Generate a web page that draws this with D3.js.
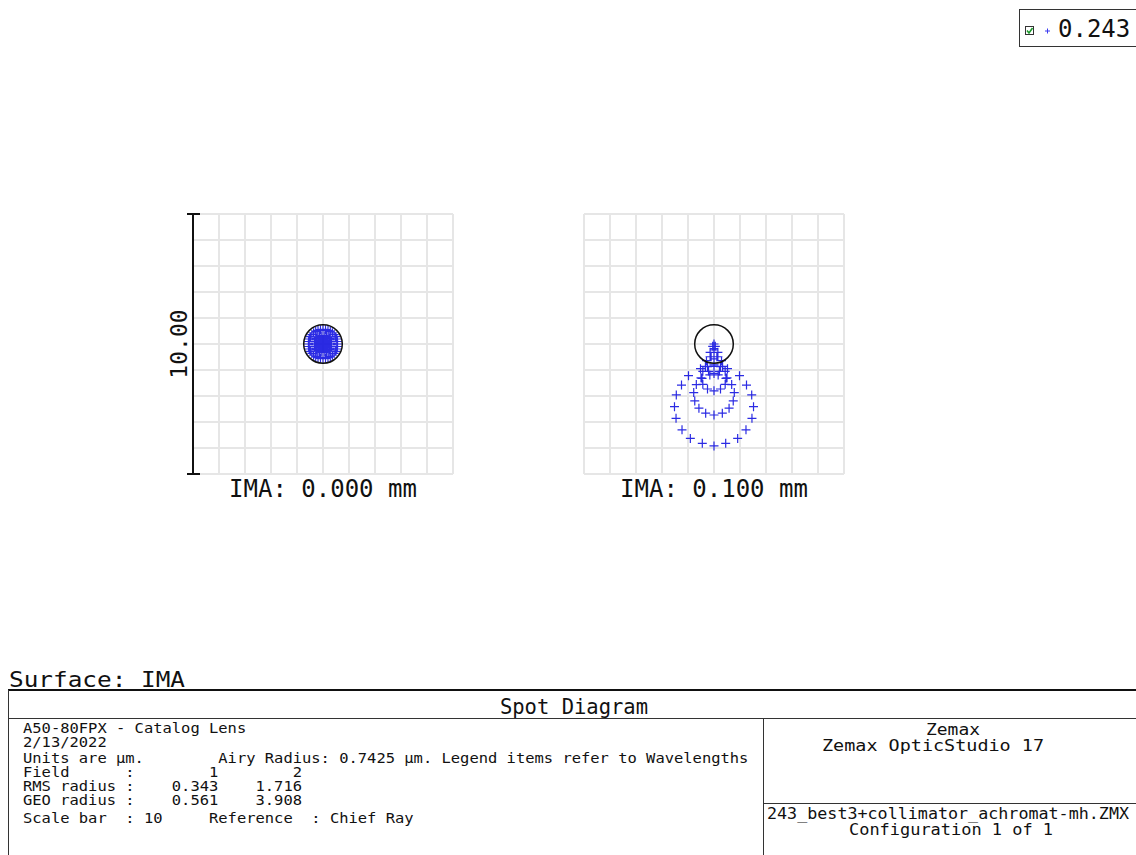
<!DOCTYPE html>
<html>
<head>
<meta charset="utf-8">
<script src="https://cdn.jsdelivr.net/npm/d3@7"></script>
<style>
  html, body { margin: 0; padding: 0; background: #fff; }
  svg { display: block; }
  text { font-family: "DejaVu Sans Mono", "Liberation Mono", monospace; fill: #111; }
</style>
</head>
<body>
<svg id="chart" width="1136" height="855"></svg>
<script>
// ---- data (micrometres, relative to the chief ray; +y is up) ----
const wavelengths = ["0.243"];
const fieldLabels = ["IMA: 0.000 mm", "IMA: 0.100 mm"];
const airyRadius = 0.7425;
const scaleBarLength = 10;
const scaleBarLabel = "10.00";

// Field 1 (on axis): hexapolar rings, spherical-like blur
const field1Spots = [
  [0, 0],
  [0, .003], [.0026, .0015], [.0026, -.0015], [0, -.003], [-.0026, -.0015], [-.0026, .0015],
  [0, .021], [.011, .018], [.018, .011], [.021, 0], [.018, -.011], [.011, -.018],
  [0, -.021], [-.011, -.018], [-.018, -.011], [-.021, 0], [-.018, .011], [-.011, .018],
  [0, .070], [.024, .066], [.045, .054], [.061, .035], [.069, .012], [.069, -.012],
  [.061, -.035], [.045, -.054], [.024, -.066], [0, -.070], [-.024, -.066], [-.045, -.054],
  [-.061, -.035], [-.069, -.012], [-.069, .012], [-.061, .035], [-.045, .054], [-.024, .066],
  [0, .166], [.043, .160], [.083, .144], [.117, .117], [.144, .083], [.160, .043],
  [.166, 0], [.160, -.043], [.144, -.083], [.117, -.117], [.083, -.144], [.043, -.160],
  [0, -.166], [-.043, -.160], [-.083, -.144], [-.117, -.117], [-.144, -.083], [-.160, -.043],
  [-.166, 0], [-.160, .043], [-.144, .083], [-.117, .117], [-.083, .144], [-.043, .160],
  [0, .325], [.068, .318], [.132, .297], [.191, .263], [.242, .217], [.281, .163],
  [.309, .100], [.323, .034], [.323, -.034], [.309, -.100], [.281, -.163], [.242, -.217],
  [.191, -.263], [.132, -.297], [.068, -.318], [0, -.325], [-.068, -.318], [-.132, -.297],
  [-.191, -.263], [-.242, -.217], [-.281, -.163], [-.309, -.100], [-.323, -.034], [-.323, .034],
  [-.309, .100], [-.281, .163], [-.242, .217], [-.191, .263], [-.132, .297], [-.068, .318],
  [0, .561], [.097, .552], [.192, .527], [.281, .486], [.361, .430], [.430, .361],
  [.486, .281], [.527, .192], [.552, .097], [.561, 0], [.552, -.097], [.527, -.192],
  [.486, -.281], [.430, -.361], [.361, -.430], [.281, -.486], [.192, -.527], [.097, -.552],
  [0, -.561], [-.097, -.552], [-.192, -.527], [-.281, -.486], [-.361, -.430], [-.430, -.361],
  [-.486, -.281], [-.527, -.192], [-.552, -.097], [-.561, 0], [-.552, .097], [-.527, .192],
  [-.486, .281], [-.430, .361], [-.361, .430], [-.281, .486], [-.192, .527], [-.097, .552]
];

// Field 2 (0.1 mm): comatic flare below the chief ray
const field2Spots = [
  [0, 0],
  [0, -0.18], [0.05, -0.09], [-0.05, -0.09],
  [0, -0.57], [0.15, -0.49], [-0.15, -0.49], [0.15, -0.32], [-0.15, -0.32], [0, -0.23],
  [0, -1.13], [0.21, -1.05], [-0.21, -1.05], [0.33, -0.86], [-0.33, -0.86],
  [0.29, -0.64], [-0.29, -0.64], [0.11, -0.49], [-0.11, -0.49],
  [0, -1.80], [0.25, -1.73], [-0.25, -1.73], [0.43, -1.55], [-0.43, -1.55],
  [0.50, -1.30], [-0.50, -1.30], [0.43, -1.05], [-0.43, -1.05],
  [0.25, -0.87], [-0.25, -0.87], [0, -0.80],
  [0, -2.73], [0.32, -2.66], [-0.32, -2.66], [0.58, -2.47], [-0.58, -2.47],
  [0.74, -2.19], [-0.74, -2.19], [0.78, -1.87], [-0.78, -1.87], [0.68, -1.56],
  [-0.68, -1.56], [0.46, -1.32], [-0.46, -1.32], [0.16, -1.19], [-0.16, -1.19],
  [0, -3.92], [0.45, -3.82], [-0.45, -3.82], [0.91, -3.63], [-0.91, -3.63],
  [1.23, -3.30], [-1.23, -3.30], [1.46, -2.86], [-1.46, -2.86], [1.52, -2.41],
  [-1.52, -2.41], [1.45, -1.96], [-1.45, -1.96], [1.25, -1.58], [-1.25, -1.58],
  [0.98, -1.22], [-0.98, -1.22], [0.52, -0.95], [-0.52, -0.95], [0, -0.86]
];

const tableTitle = "Spot Diagram";
const surfaceLabel = "Surface: IMA";
const infoLines = [
  "A50-80FPX - Catalog Lens",
  "2/13/2022",
  "Units are \u00b5m.        Airy Radius: 0.7425 \u00b5m. Legend items refer to Wavelengths",
  "Field      :        1        2",
  "RMS radius :    0.343    1.716",
  "GEO radius :    0.561    3.908",
  "Scale bar  : 10     Reference  : Chief Ray"
];
const programLines = ["Zemax", "Zemax OpticStudio 17"];
const fileLines = ["243_best3+collimator_achromat-mh.ZMX", "Configuration 1 of 1"];

// ---- drawing ----
const svg = d3.select("#chart");
svg.append("rect").attr("width", 1136).attr("height", 855).attr("fill", "#fff");

const plotSize = 260, plotTop = 214;
const panels = [
  { left: 193, spots: field1Spots, label: fieldLabels[0] },
  { left: 584, spots: field2Spots, label: fieldLabels[1] }
];
const half = scaleBarLength / 2;
const gridTicks = d3.range(-half, half + 0.001, 1);

panels.forEach((p, i) => {
  const x = d3.scaleLinear().domain([-half, half]).range([p.left, p.left + plotSize]);
  const y = d3.scaleLinear().domain([-half, half]).range([plotTop + plotSize, plotTop]);
  const g = svg.append("g");

  // grid
  g.selectAll("line.v").data(gridTicks).join("line")
    .attr("class", "v")
    .attr("x1", d => x(d)).attr("x2", d => x(d))
    .attr("y1", y(-half)).attr("y2", y(half))
    .attr("stroke", "#e6e6e6").attr("stroke-width", 2);
  g.selectAll("line.h").data(gridTicks).join("line")
    .attr("class", "h")
    .attr("y1", d => y(d)).attr("y2", d => y(d))
    .attr("x1", x(-half)).attr("x2", x(half))
    .attr("stroke", "#e6e6e6").attr("stroke-width", 2);

  // ray intercepts as crosses
  const s = 4.5;
  g.append("path")
    .attr("d", p.spots.map(([a, b]) => {
      const px = x(a), py = y(b);
      return `M${px - s},${py}H${px + s}M${px},${py - s}V${py + s}`;
    }).join(""))
    .attr("fill", "none")
    .attr("stroke", "#1414e0")
    .attr("stroke-opacity", 0.9)
    .attr("stroke-width", 1.2);

  // Airy disc
  g.append("circle")
    .attr("cx", x(0)).attr("cy", y(0))
    .attr("r", x(airyRadius) - x(0))
    .attr("fill", "none").attr("stroke", "#111").attr("stroke-width", 1.5);

  // field label
  g.append("text")
    .attr("x", x(0)).attr("y", 497)
    .attr("text-anchor", "middle")
    .style("font-size", "24px")
    .style("white-space", "pre")
    .text(p.label);

  // scale bar on the first panel
  if (i === 0) {
    const bx = x(-half);
    g.append("line").attr("x1", bx).attr("x2", bx)
      .attr("y1", y(half)).attr("y2", y(-half))
      .attr("stroke", "#111").attr("stroke-width", 2);
    [half, -half].forEach(v => {
      g.append("line").attr("x1", bx - 6).attr("x2", bx + 7)
        .attr("y1", y(v)).attr("y2", y(v))
        .attr("stroke", "#111").attr("stroke-width", 2);
    });
    g.append("text")
      .attr("transform", `translate(${bx - 6.5},${y(0)}) rotate(-90)`)
      .attr("text-anchor", "middle")
      .style("font-size", "23px")
      .text(scaleBarLabel);
  }
});

// legend
const lg = svg.append("g");
lg.append("rect").attr("x", 1019.5).attr("y", 9.5).attr("width", 120).attr("height", 37)
  .attr("fill", "#fff").attr("stroke", "#333").attr("stroke-width", 1);
lg.append("rect").attr("x", 1025.5).attr("y", 26.5).attr("width", 8).attr("height", 8)
  .attr("fill", "#fff").attr("stroke", "#333").attr("stroke-width", 1);
lg.append("path").attr("d", "M1027,30.5L1029,33L1032.5,28")
  .attr("fill", "none").attr("stroke", "#1a9a2a").attr("stroke-width", 1.6);
lg.append("path").attr("d", "M1045,31H1050M1047.5,28.5V33.5")
  .attr("stroke", "#3a3af0").attr("stroke-width", 1);
lg.selectAll("text.wl").data(wavelengths).join("text")
  .attr("x", 1058).attr("y", 37)
  .style("font-size", "24px")
  .text(d => d);

// surface caption and info table
svg.append("text").attr("x", 9).attr("y", 687)
  .attr("textLength", 176).attr("lengthAdjust", "spacingAndGlyphs")
  .style("font-size", "22px").text(surfaceLabel);

const tb = svg.append("g");
tb.append("line").attr("x1", 8).attr("x2", 1136).attr("y1", 690).attr("y2", 690)
  .attr("stroke", "#111").attr("stroke-width", 2);
tb.append("line").attr("x1", 8.5).attr("x2", 8.5).attr("y1", 690).attr("y2", 855)
  .attr("stroke", "#333").attr("stroke-width", 1);
tb.append("line").attr("x1", 8).attr("x2", 1136).attr("y1", 718.5).attr("y2", 718.5)
  .attr("stroke", "#333").attr("stroke-width", 1);
tb.append("line").attr("x1", 763.5).attr("x2", 763.5).attr("y1", 718).attr("y2", 855)
  .attr("stroke", "#333").attr("stroke-width", 1);
tb.append("line").attr("x1", 763).attr("x2", 1136).attr("y1", 803.5).attr("y2", 803.5)
  .attr("stroke", "#333").attr("stroke-width", 1);

tb.append("text").attr("x", 574).attr("y", 714).attr("text-anchor", "middle")
  .style("font-size", "20.5px").text(tableTitle);

// fixed-pitch info block: 9.3 px per character column
const colPitch = 9.3;
const infoBaselines = [733, 747, 763, 777, 791, 805, 823];
tb.selectAll("text.info").data(infoLines).join("text")
  .attr("class", "info")
  .attr("x", 23).attr("y", (d, i) => infoBaselines[i])
  .attr("textLength", d => d.length * colPitch)
  .attr("lengthAdjust", "spacingAndGlyphs")
  .style("font-size", "14px").style("white-space", "pre")
  .text(d => d);

const progPos = [{ x: 953, y: 735, w: 54 }, { x: 933, y: 751, w: 222 }];
tb.selectAll("text.prog").data(programLines).join("text")
  .attr("class", "prog")
  .attr("x", (d, i) => progPos[i].x).attr("y", (d, i) => progPos[i].y)
  .attr("text-anchor", "middle")
  .attr("textLength", (d, i) => progPos[i].w)
  .attr("lengthAdjust", "spacingAndGlyphs")
  .style("font-size", "15px").style("white-space", "pre")
  .text(d => d);

const filePos = [{ x: 948, y: 819, w: 362 }, { x: 951, y: 835, w: 204 }];
tb.selectAll("text.file").data(fileLines).join("text")
  .attr("class", "file")
  .attr("x", (d, i) => filePos[i].x).attr("y", (d, i) => filePos[i].y)
  .attr("text-anchor", "middle")
  .attr("textLength", (d, i) => filePos[i].w)
  .attr("lengthAdjust", "spacingAndGlyphs")
  .style("font-size", "15px").style("white-space", "pre")
  .text(d => d);
</script>
</body>
</html>
